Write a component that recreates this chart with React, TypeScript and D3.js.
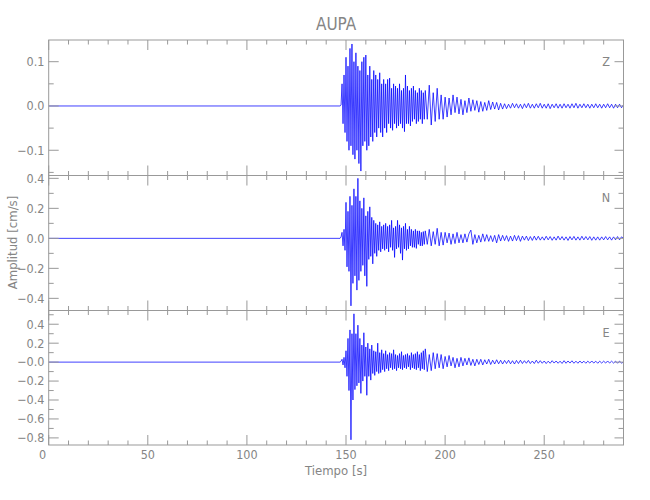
import { useMemo } from 'react';
import * as d3 from 'd3';

// station / components
const station = 'AUPA';
const components = ['Z', 'N', 'E'];

// time axis [s]
const xMajorTicks = [0, 50, 100, 150, 200, 250];
const xMinorStep = 10;
const tMax = 290;

// trace sampling: quiet until onset, strong part every 0.5 s, coda every 1 s
const onset = 147;
const strongStep = 0.5;
const codaStep = 1;

// peaks [cm/s]
const zStrong = [
  0, 0.002, 0.05, -0.04, 0.07, -0.06, 0.11, -0.08, 0.09, -0.1,
  0.13, -0.09, 0.14, -0.11, 0.1, -0.12, 0.12, -0.1, 0.09, -0.13,
  0.08, -0.147, 0.1, -0.09, 0.11, -0.08, 0.115, -0.1, 0.07, -0.09,
  0.09, -0.07, 0.06, -0.08, 0.08, -0.06, 0.07, -0.07, 0.06, -0.05,
  0.075, -0.06, 0.05, -0.07, 0.06, -0.05, 0.05, -0.06, 0.06, -0.04,
  0.063, -0.05, 0.04, -0.055, 0.05, -0.04, 0.045, -0.05, 0.04, -0.045,
  0.05, -0.04, 0.035, -0.05, 0.04, -0.058, 0.07, -0.04, 0.045, -0.04,
  0.035, -0.045, 0.04, -0.035, 0.045, -0.03, 0.035, -0.04, 0.03, -0.035,
  0.04, -0.03, 0.035, -0.04, 0.03, -0.03,
];
const zCoda = [
  0.035, -0.03, 0.047, -0.043, 0.03, -0.035, 0.04, -0.03, 0.025, -0.03,
  0.02, -0.025, 0.018, -0.02, 0.025, -0.015, 0.02, -0.018, 0.015, -0.02,
  0.012, -0.015, 0.018, -0.012, 0.014, -0.01, 0.012, -0.014, 0.01, -0.012,
  0.008, -0.01, 0.012, -0.008, 0.009, -0.007, 0.008, -0.009, 0.006, -0.007,
  0.005, -0.006, 0.004, -0.005, 0.006, -0.004, 0.005, -0.005, 0.004, -0.006,
  0.005, -0.004, 0.006, -0.005, 0.004, -0.005, 0.005, -0.004, 0.006, -0.005,
  0.004, -0.005, 0.005, -0.006, 0.004, -0.004, 0.005, -0.005, 0.004, -0.005,
  0.005, -0.004, 0.004, -0.005, 0.005, -0.004, 0.006, -0.005, 0.004, -0.004,
  0.005, -0.004, 0.004, -0.005, 0.004, -0.004, 0.005, -0.004, 0.004, -0.005,
  0.004, -0.004, 0.005, -0.004, 0.004, -0.005, 0.004, -0.004, 0.004, -0.004,
  0.003,
];

const nStrong = [
  0, 0.01, 0.04, -0.05, 0.06, -0.08, 0.24, -0.19, 0.18, -0.22,
  0.28, -0.45, 0.22, -0.3, 0.33, -0.25, 0.28, -0.345, 0.4, -0.28,
  0.25, -0.22, 0.2, -0.18, 0.27, -0.25, 0.15, -0.32, 0.18, -0.14,
  0.21, -0.12, 0.14, -0.17, 0.12, -0.1, 0.1, -0.12, 0.09, -0.08,
  0.11, -0.09, 0.08, -0.07, 0.09, -0.08, 0.1, -0.07, 0.08, -0.09,
  0.09, -0.06, 0.12, -0.08, 0.07, -0.127, 0.08, -0.07, 0.12, -0.06,
  0.09, -0.1, 0.07, -0.145, 0.08, -0.07, 0.1, -0.08, 0.06, -0.07,
  0.08, -0.05, 0.06, -0.06, 0.05, -0.06, 0.06, -0.067, 0.05, -0.04,
  0.05, -0.05, 0.04, -0.05, 0.045, -0.04,
];
const nCoda = [
  0.05, -0.04, 0.06, -0.05, 0.045, -0.04, 0.067, -0.05, 0.04, -0.045,
  0.04, -0.03, 0.035, -0.04, 0.03, -0.035, 0.04, -0.03, 0.025, -0.03,
  0.03, -0.025, 0.03, 0.055, -0.04, 0.025, -0.03, 0.02, -0.025, 0.03,
  -0.02, 0.025, -0.02, 0.018, -0.022, 0.02, -0.03, 0.025, -0.018, 0.02,
  -0.015, 0.018, -0.02, 0.015, -0.018, 0.02, -0.015, 0.018, -0.02, 0.015,
  -0.012, 0.015, -0.015, 0.012, -0.014, 0.015, -0.012, 0.014, -0.012, 0.01,
  -0.012, 0.014, -0.01, 0.012, -0.013, 0.01, -0.012, 0.015, -0.01, 0.012,
  -0.012, 0.01, -0.014, 0.012, -0.01, 0.013, -0.012, 0.01, -0.012, 0.014,
  -0.01, 0.012, -0.01, 0.012, -0.013, 0.01, -0.012, 0.01, -0.012, 0.01,
  -0.01, 0.012, -0.01, 0.01, -0.012, 0.01, -0.01, 0.012, -0.01, 0.01,
  0,
];

const eStrong = [
  0, 0.01, 0.03, -0.03, 0.05, -0.06, 0.12, -0.15, 0.25, -0.3,
  0.34, -0.82, 0.3, -0.4, 0.51, -0.29, 0.3, -0.25, 0.39, -0.22,
  0.25, -0.33, 0.18, -0.2, 0.31, -0.15, 0.16, -0.35, 0.2, -0.15,
  0.14, -0.19, 0.18, -0.12, 0.12, -0.14, 0.11, -0.1, 0.2, -0.12,
  0.1, -0.11, 0.13, -0.08, 0.09, -0.1, 0.12, -0.07, 0.08, -0.09,
  0.1, -0.06, 0.09, -0.08, 0.13, -0.07, 0.08, -0.09, 0.07, -0.06,
  0.09, -0.07, 0.11, -0.08, 0.07, -0.06, 0.08, -0.07, 0.09, -0.05,
  0.07, -0.08, 0.1, -0.06, 0.08, -0.07, 0.09, -0.08, 0.11, -0.06,
  0.08, -0.09, 0.1, -0.07, 0.12, -0.08,
];
const eCoda = [
  0.14, -0.1, 0.08, -0.09, 0.1, -0.07, 0.09, -0.06, 0.08, -0.07,
  0.06, -0.05, 0.07, -0.04, 0.05, -0.06, 0.04, -0.05, 0.05, -0.04,
  0.04, -0.03, 0.045, -0.035, 0.03, -0.04, 0.03, -0.025, 0.03, -0.03,
  0.025, -0.02, 0.03, -0.025, 0.02, -0.02, 0.025, -0.018, 0.02, -0.02,
  0.018, -0.015, 0.02, -0.018, 0.015, -0.02, 0.018, -0.015, 0.02, -0.015,
  0.015, -0.012, 0.018, -0.015, 0.012, -0.015, 0.02, -0.012, 0.015, -0.012,
  0.012, -0.015, 0.01, -0.012, 0.015, -0.01, 0.012, -0.012, 0.01, -0.014,
  0.015, -0.012, 0.012, -0.01, 0.014, -0.012, 0.01, -0.012, 0.012, -0.01,
  0.01, -0.012, 0.01, -0.01, 0.012, -0.01, 0.01, -0.012, 0.01, -0.01,
  0.01, -0.01, 0.012, -0.01, 0.01, -0.01, 0.01, -0.012, 0.01, -0.01,
  0,
];

// y ranges and ticks per panel
const zDomain = [-0.157, 0.149];
const nDomain = [-0.481, 0.419];
const eDomain = [-0.875, 0.545];
const zMajor = [-0.1, 0, 0.1];
const zMinor = [-0.15, -0.05, 0.05];
const zLabels = ['\u22120.1', '0.0', '0.1'];
const nMajor = [-0.4, -0.2, 0, 0.2, 0.4];
const nMinor = [-0.3, -0.1, 0.1, 0.3];
const nLabels = ['\u22120.4', '\u22120.2', '0.0', '0.2', '0.4'];
const eMajor = [-0.8, -0.6, -0.4, -0.2, 0, 0.2, 0.4];
const eMinor = [-0.7, -0.5, -0.3, -0.1, 0.1, 0.3, 0.5];
const eLabels = ['\u22120.8', '\u22120.6', '\u22120.4', '\u22120.2', '\u22120.0', '0.2', '0.4'];

const W = 650;
const H = 500;
const left = 48.7;
const right = 623.5;
const panelEdges = [40, 175.5, 310.5, 445];
const axisColor = '#999';
const textColor = '#858585';
const font = "'Liberation Sans Narrow', 'DejaVu Sans Condensed', 'Roboto', sans-serif";

const buildTrace = (strong: number[], coda: number[]): [number, number][] => {
  const pts: [number, number][] = [[0, 0]];
  strong.forEach((v, i) => pts.push([onset + i * strongStep, v]));
  const codaStart = onset + strong.length * strongStep;
  coda.forEach((v, i) => pts.push([codaStart + i * codaStep, v]));
  return pts;
};

export default function App() {
  const x = d3.scaleLinear().domain([0, tMax]).range([left, right]);
  const xMinor = d3.range(0, tMax + 0.001, xMinorStep).filter((t) => !xMajorTicks.includes(t));

  const panels = useMemo(
    () => [
      { name: components[0], domain: zDomain, major: zMajor, minor: zMinor, labels: zLabels, trace: buildTrace(zStrong, zCoda) },
      { name: components[1], domain: nDomain, major: nMajor, minor: nMinor, labels: nLabels, trace: buildTrace(nStrong, nCoda) },
      { name: components[2], domain: eDomain, major: eMajor, minor: eMinor, labels: eLabels, trace: buildTrace(eStrong, eCoda) },
    ],
    []
  );

  return (
    <svg width={W} height={H} style={{ position: 'absolute', left: 0, top: 0, background: '#fff' }} fontFamily={font}>
      <text x={(left + right) / 2} y={30} textAnchor="middle" fontSize={17} fill={textColor}>
        {station}
      </text>
      {panels.map((p, pi) => {
        const top = panelEdges[pi];
        const bottom = panelEdges[pi + 1];
        const y = d3.scaleLinear().domain(p.domain).range([bottom, top]);
        const line = d3
          .line<[number, number]>()
          .x((d) => x(d[0]))
          .y((d) => y(d[1]));
        return (
          <g key={p.name}>
            <defs>
              <clipPath id={`clip-${pi}`}>
                <rect x={left} y={top} width={right - left} height={bottom - top} />
              </clipPath>
            </defs>
            <g clipPath={`url(#clip-${pi})`}>
              <path d={line(p.trace) ?? ''} fill="none" stroke="#0000ff" strokeWidth={0.75} />
            </g>
            <rect x={left} y={top} width={right - left} height={bottom - top} fill="none" stroke={axisColor} strokeWidth={1} />
            {xMajorTicks.map((t) => (
              <g key={`xm${t}`} stroke={axisColor}>
                <line x1={x(t)} x2={x(t)} y1={top} y2={top + 10} />
                <line x1={x(t)} x2={x(t)} y1={bottom} y2={bottom - 10} />
              </g>
            ))}
            {xMinor.map((t) => (
              <g key={`xn${t}`} stroke={axisColor}>
                <line x1={x(t)} x2={x(t)} y1={top} y2={top + 4.5} />
                <line x1={x(t)} x2={x(t)} y1={bottom} y2={bottom - 4.5} />
              </g>
            ))}
            {p.major.map((v, i) => (
              <g key={`ym${v}`}>
                <line x1={left} x2={left + 10} y1={y(v)} y2={y(v)} stroke={axisColor} />
                <line x1={right} x2={right - 9} y1={y(v)} y2={y(v)} stroke={axisColor} />
                <text x={44.5} y={y(v)} dy="0.35em" textAnchor="end" fontSize={12.5} fill={textColor}>
                  {p.labels[i]}
                </text>
              </g>
            ))}
            {p.minor.map((v) => (
              <g key={`yn${v}`} stroke={axisColor}>
                <line x1={left} x2={left + 5} y1={y(v)} y2={y(v)} />
                <line x1={right} x2={right - 5} y1={y(v)} y2={y(v)} />
              </g>
            ))}
            <text x={606} y={top + 26} textAnchor="middle" fontSize={12.5} fill={textColor}>
              {p.name}
            </text>
          </g>
        );
      })}
      {xMajorTicks.map((t) => (
        <text key={`xl${t}`} x={t === 0 ? x(t) - 6 : x(t)} y={458.5} textAnchor="middle" fontSize={12.5} fill={textColor}>
          {t}
        </text>
      ))}
      <text x={(left + right) / 2} y={475} textAnchor="middle" fontSize={13} fill={textColor}>
        Tiempo [s]
      </text>
      <text transform={`translate(17,${(panelEdges[0] + panelEdges[3]) / 2}) rotate(-90)`} textAnchor="middle" fontSize={13} fill={textColor}>
        Amplitud [cm/s]
      </text>
    </svg>
  );
}
